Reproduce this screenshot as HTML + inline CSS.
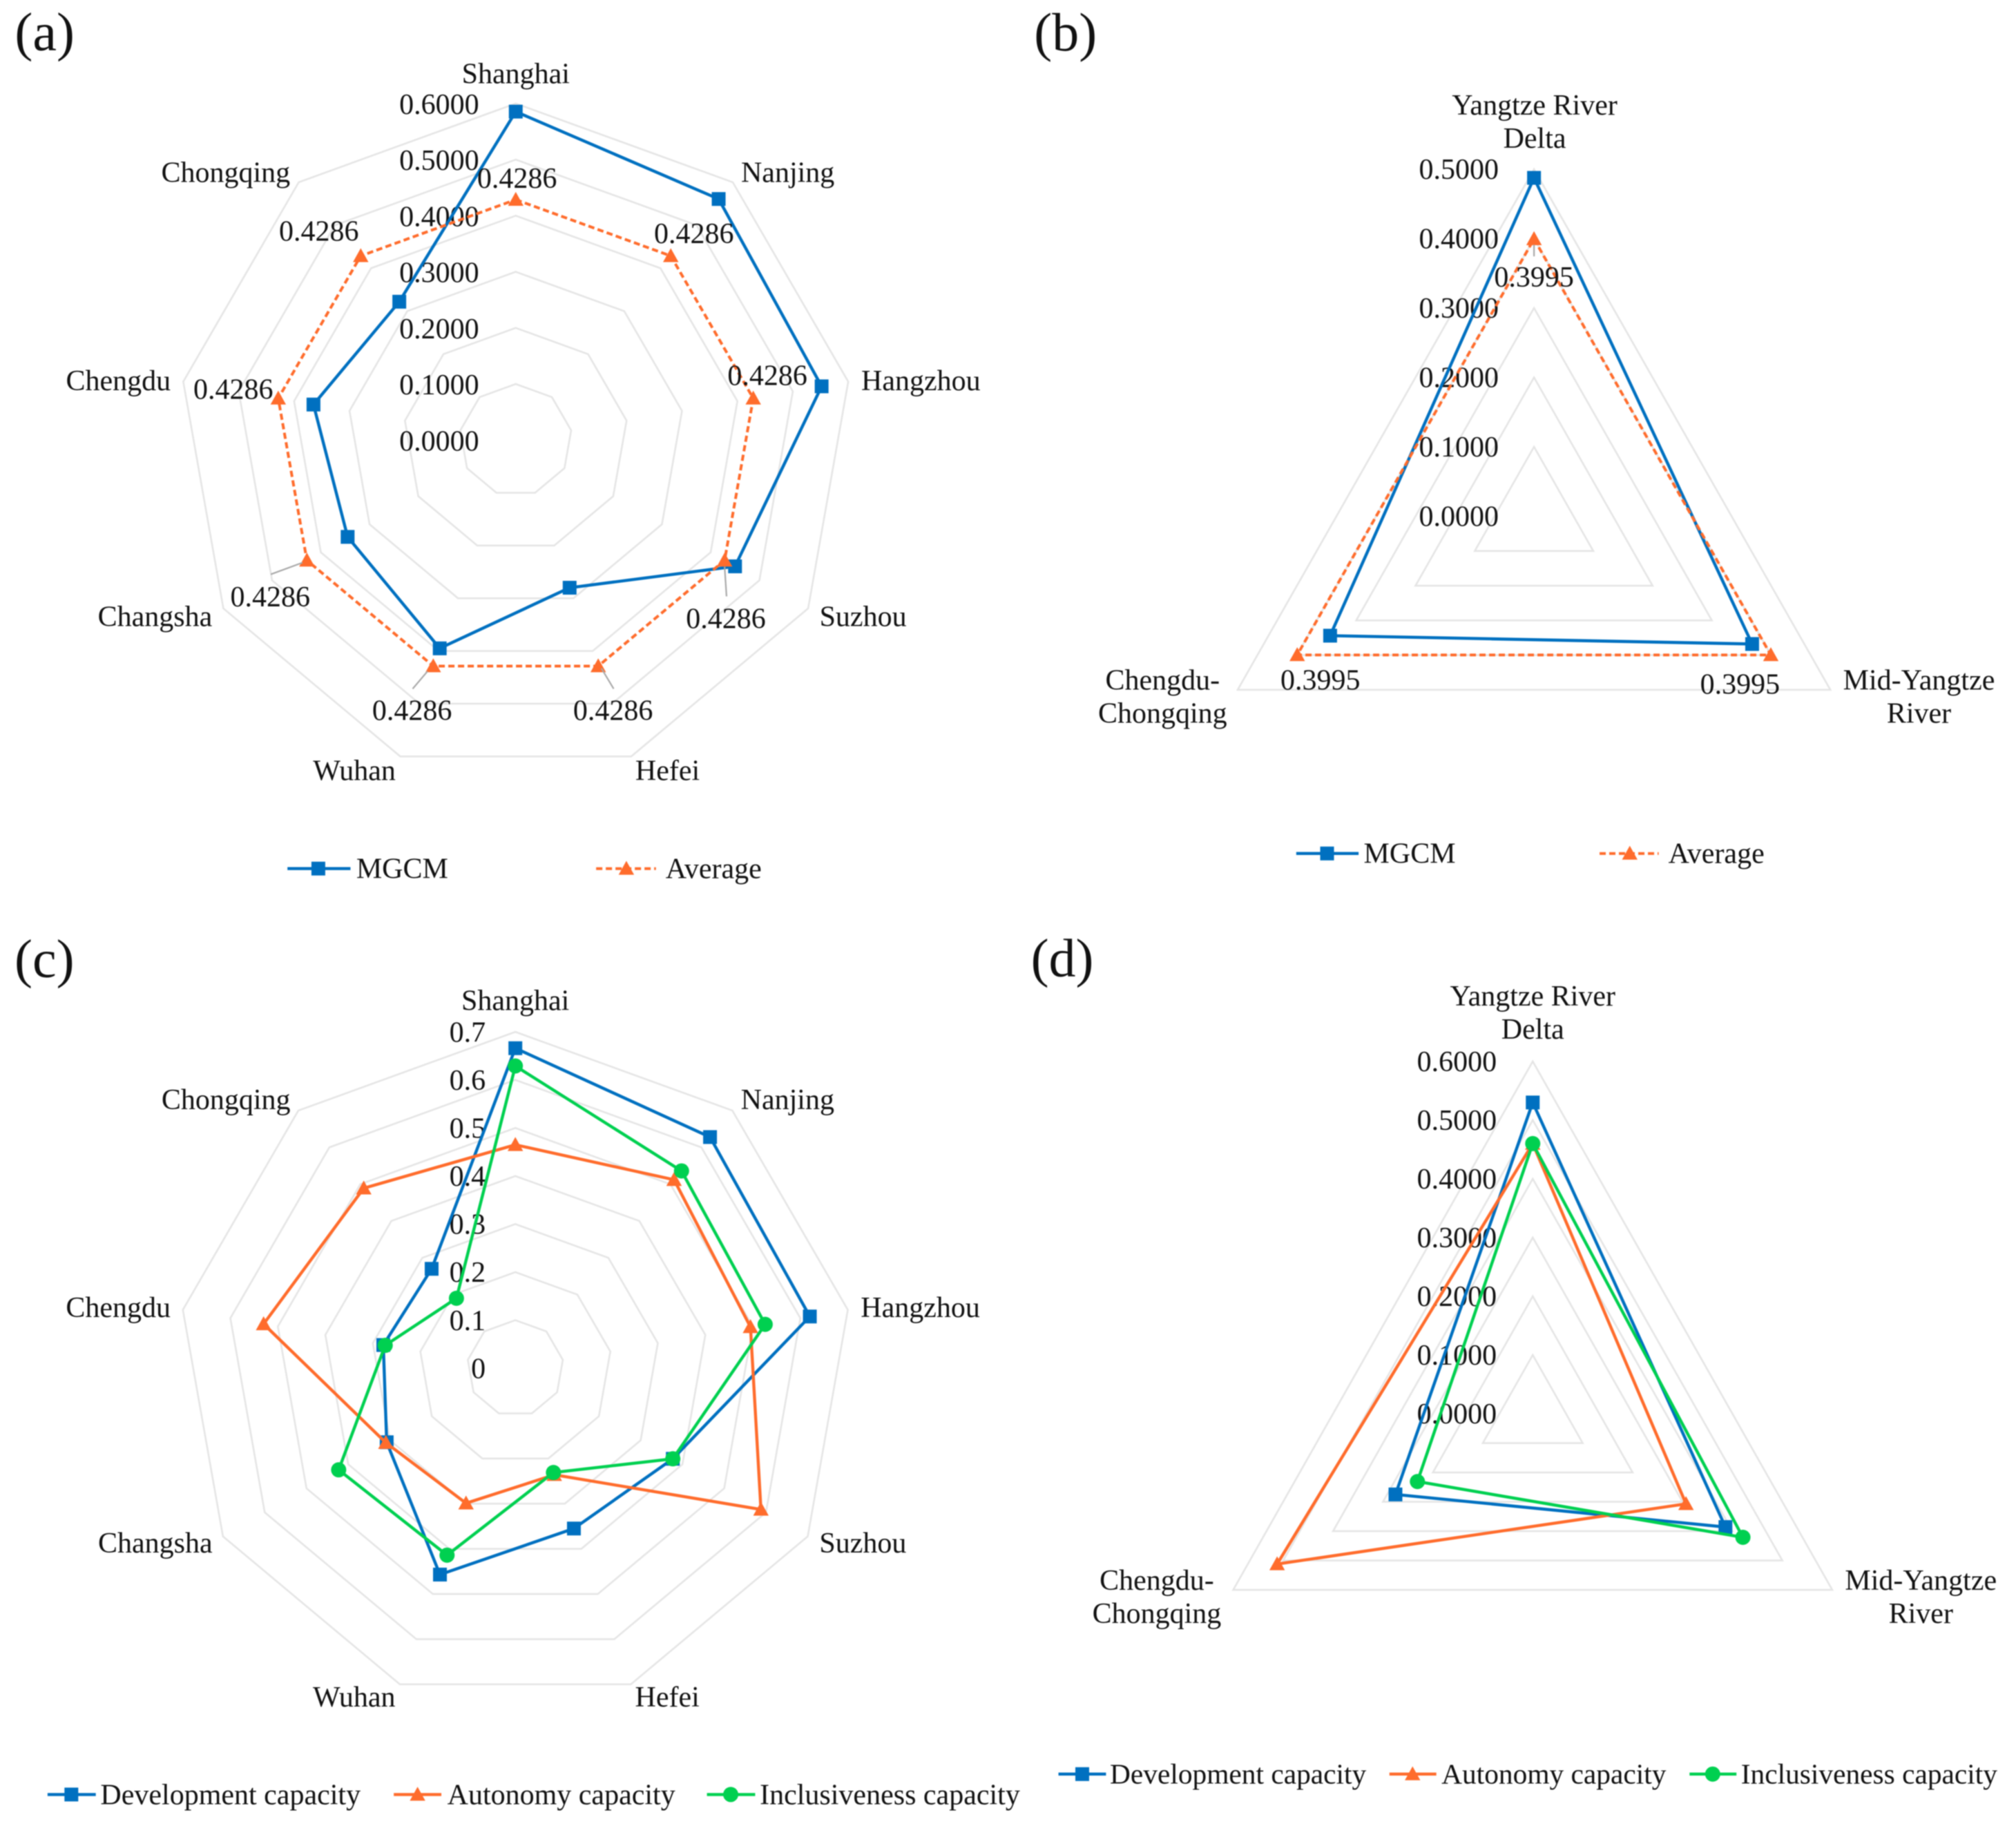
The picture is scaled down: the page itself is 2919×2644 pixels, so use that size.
<!DOCTYPE html>
<html lang="en">
<head>
<meta charset="utf-8">
<title>Radar charts of MGCM and capacity scores</title>
<style>
html,body{margin:0;padding:0;background:#fff;overflow:hidden;}
#figure{display:block;width:2919px;height:2644px;filter:blur(0.7px);}
text{font-family:"Liberation Serif","Times New Roman",serif;fill:#111;}
</style>
</head>
<body>
<svg id="figure" xmlns="http://www.w3.org/2000/svg" width="2919" height="2644" viewBox="0 0 2919 2644"></svg>
<script>
const cityCategories = ['Shanghai','Nanjing','Hangzhou','Suzhou','Hefei','Wuhan','Changsha','Chengdu','Chongqing'];
const regionCategories = [['Yangtze River','Delta'],['Mid-Yangtze','River'],['Chengdu-','Chongqing']];

const panelATicks = [0,0.1,0.2,0.3,0.4,0.5,0.6];
const panelATickLabels = ['0.0000','0.1000','0.2000','0.3000','0.4000','0.5000','0.6000'];
const panelAMgcm = [0.5855,0.561,0.552,0.45,0.28,0.395,0.345,0.365,0.322];
const panelAAverage = [0.4286,0.4286,0.4286,0.4286,0.4286,0.4286,0.4286,0.4286,0.4286];
const panelAAverageLabels = ['0.4286','0.4286','0.4286','0.4286','0.4286','0.4286','0.4286','0.4286','0.4286'];

const panelBTicks = [0,0.1,0.2,0.3,0.4,0.5];
const panelBTickLabels = ['0.0000','0.1000','0.2000','0.3000','0.4000','0.5000'];
const panelBMgcm = [0.4875,0.368,0.344];
const panelBAverage = [0.3995,0.3995,0.3995];
const panelBAverageLabels = ['0.3995','0.3995','0.3995'];

const panelCTicks = [0,0.1,0.2,0.3,0.4,0.5,0.6,0.7];
const panelCTickLabels = ['0','0.1','0.2','0.3','0.4','0.5','0.6','0.7'];
const panelCDevelopment = [0.666,0.628,0.62,0.377,0.355,0.457,0.308,0.278,0.27];
const panelCAutonomy = [0.465,0.512,0.495,0.588,0.236,0.299,0.31,0.53,0.489];
const panelCInclusiveness = [0.629,0.536,0.526,0.377,0.231,0.414,0.423,0.274,0.19];

const panelDTicks = [0,0.1,0.2,0.3,0.4,0.5,0.6];
const panelDTickLabels = ['0.0000','0.1000','0.2000','0.3000','0.4000','0.5000','0.6000'];
const panelDDevelopment = [0.53,0.386,0.275];
const panelDAutonomy = [0.46,0.307,0.512];
const panelDInclusiveness = [0.46,0.421,0.231];

const BLUE = '#0070c0';
const ORANGE = '#ff6c2c';
const GREEN = '#00d050';
const GRID = '#e5e5e5';
const DASH = '9 5';
const FONT_SIZE = 42;
const NS = 'http://www.w3.org/2000/svg';
const svg = document.getElementById('figure');

function mk(parent, tag, attrs, content) {
  const el = document.createElementNS(NS, tag);
  for (const k in attrs) el.setAttribute(k, attrs[k]);
  if (content !== undefined) el.textContent = content;
  parent.appendChild(el);
  return el;
}
function slug(s) { return s.toLowerCase().replace(/[^a-z0-9]+/g, '-').replace(/-$/, ''); }

function drawMarker(g, kind, x, y, color) {
  const size = 20;
  if (kind === 'square') {
    return mk(g, 'rect', {x: x - size / 2, y: y - size / 2, width: size, height: size, fill: color});
  }
  if (kind === 'triangle') {
    const h = size * 0.56;
    return mk(g, 'polygon', {points: x + ',' + (y - h) + ' ' + (x + h) + ',' + (y + h * 0.8) + ' ' + (x - h) + ',' + (y + h * 0.8), fill: color});
  }
  return mk(g, 'circle', {cx: x, cy: y, r: size * 0.55, fill: color});
}

function drawPanel(p) {
  const X = z => p.ox + z * p.fx;
  const Y = z => p.oy + z * p.fy;
  const g = mk(svg, 'g', {});
  
  
  const n = p.categories.length;
  const cx = X(p.cx), cy = Y(p.cy), ux = p.ux * p.fx, uy = p.uy * p.fy;
  const angle = i => 2 * Math.PI * i / n;
  const px = (i, v) => cx + v * ux * Math.sin(angle(i));
  const py = (i, v) => cy - v * uy * Math.cos(angle(i));
  const yAxis = v => cy - v * uy;

  function label(parent, x, y, text, anchor, size) {
    return mk(parent, 'text', {x: x, y: y, 'font-size': size || FONT_SIZE, 'text-anchor': anchor || 'middle'}, text);
  }

  const tag = mk(g, 'text', {x: X(p.tagX), y: Y(p.tagY), 'font-size': 78}, '(' + p.id + ')');
  
  

  p.ticks.forEach(t => {
    if (t <= 0) return;
    const pts = p.categories.map((c, i) => px(i, t) + ',' + py(i, t)).join(' ');
    const ring = mk(g, 'polygon', {points: pts, fill: 'none', stroke: GRID, 'stroke-width': 2.6});
    
    
  });

  p.ticks.forEach((t, i) => {
    const tl = label(g, X(p.tickRight), yAxis(t) + p.tickShift * p.fy + FONT_SIZE * 0.338, p.tickLabels[i], 'end');
    
    
  });

  p.categories.forEach((c, i) => {
    const lines = Array.isArray(c) ? c : [c];
    lines.forEach((line, j) => {
      const t = label(g, X(p.catPos[i][0]), Y(p.catPos[i][1]) + j * 48.2 + FONT_SIZE * 0.32, line);
      
      
    });
  });

  p.series.forEach(s => {
    const sg = mk(g, 'g', {});
    
    
    const pts = s.values.map((v, i) => px(i, v) + ',' + py(i, v)).join(' ');
    const attrs = {points: pts, fill: 'none', stroke: s.color, 'stroke-width': s.dash ? 4 : 4.4, 'stroke-linejoin': 'round'};
    if (s.dash) attrs['stroke-dasharray'] = s.dash;
    const line = mk(sg, 'polygon', attrs);
    
    
    s.values.forEach((v, i) => {
      const m = drawMarker(sg, s.marker, px(i, v), py(i, v), s.color);
      
      
    });
    if (s.labels) {
      s.values.forEach((v, i) => {
        const x = px(i, v), y = py(i, v);
        const off = p.labelOffsets[i];
        const lead = p.leaders[i];
        if (lead) {
          const l = mk(sg, 'line', {x1: x + lead[0] * p.fx, y1: y + lead[1] * p.fy, x2: x + lead[2] * p.fx, y2: y + lead[3] * p.fy, stroke: '#a8a8a8', 'stroke-width': 2.2});
          
          
        }
        const t = label(sg, x + off[0] * p.fx, y + off[1] * p.fy + FONT_SIZE * 0.338, s.labels[i]);
        
        
      });
    }
  });

  p.legend.forEach(e => {
    const lg = mk(g, 'g', {});
    
    
    const ly = Y(p.legendY);
    const attrs = {x1: X(e.x1), x2: X(e.x2), y1: ly, y2: ly, stroke: e.color, 'stroke-width': e.dash ? 4 : 4.4};
    if (e.dash) attrs['stroke-dasharray'] = e.dash;
    mk(lg, 'line', attrs);
    drawMarker(lg, e.marker, X(e.mx), ly, e.color);
    label(lg, X(e.tx), ly + FONT_SIZE * 0.33, e.name, 'start', p.legendFont);
  });
}

drawPanel({
  id: 'a', ox: 0, oy: 0, fx: 1460 / 1568, fy: 1320 / 1568,
  cx: 802, cy: 757, ux: 875, uy: 965,
  tagX: 23, tagY: 86, tickRight: 745, tickShift: 1,
  categories: cityCategories, ticks: panelATicks, tickLabels: panelATickLabels,
  catPos: [[802,127],[1225,297],[1432,655],[1342,1061],[1038,1326],[551,1326],[241,1061],[184,655],[351,297]],
  labelOffsets: [[2,-37],[36,-39],[22,-40],[2,100],[23,76],[-33,76],[-57,62],[-70,-16],[-65,-43]],
  leaders: [null,null,null,[0,11,3,62],[5,4,24,39],[-9,9,-32,39],[-7,4,-56,24],null,null],
  series: [
    {name: 'MGCM', values: panelAMgcm, color: BLUE, marker: 'square'},
    {name: 'Average', values: panelAAverage, color: ORANGE, marker: 'triangle', dash: DASH, labels: panelAAverageLabels}
  ],
  legendY: 1494, legendFont: 42,
  legend: [
    {name: 'MGCM', color: BLUE, marker: 'square', x1: 447, x2: 545, mx: 495, tx: 554},
    {name: 'Average', color: ORANGE, marker: 'triangle', dash: DASH, x1: 927, x2: 1020, mx: 974, tx: 1035}
  ]
});

drawPanel({
  id: 'b', ox: 1460, oy: 0, fx: 1459 / 1568, fy: 1320 / 1568,
  cx: 818, cy: 888, ux: 1065, uy: 1194,
  tagX: 40, tagY: 87, tickRight: 763, tickShift: 0,
  categories: regionCategories, ticks: panelBTicks, tickLabels: panelBTickLabels,
  catPos: [[819,181],[1417,1170],[240,1170]],
  labelOffsets: [[0,65],[-48,50],[36,43]],
  leaders: [[0,10,0,30],null,null],
  series: [
    {name: 'MGCM', values: panelBMgcm, color: BLUE, marker: 'square'},
    {name: 'Average', values: panelBAverage, color: ORANGE, marker: 'triangle', dash: DASH, labels: panelBAverageLabels}
  ],
  legendY: 1468, legendFont: 42,
  legend: [
    {name: 'MGCM', color: BLUE, marker: 'square', x1: 448, x2: 545, mx: 496, tx: 553},
    {name: 'Average', color: ORANGE, marker: 'triangle', dash: DASH, x1: 920, x2: 1012, mx: 967, tx: 1027}
  ]
});

drawPanel({
  id: 'c', ox: 0, oy: 1320, fx: 1500 / 1568, fy: 1324 / 1568,
  cx: 780, cy: 783, ux: 730, uy: 824,
  tagX: 22, tagY: 112, tickRight: 735, tickShift: 0,
  categories: cityCategories, ticks: panelCTicks, tickLabels: panelCTickLabels,
  catPos: [[780,153],[1192,323],[1393,679],[1306,1083],[1010,1347],[536,1347],[235,1083],[179,679],[342,323]],
  labelOffsets: [], leaders: [],
  series: [
    {name: 'Development capacity', values: panelCDevelopment, color: BLUE, marker: 'square'},
    {name: 'Autonomy capacity', values: panelCAutonomy, color: ORANGE, marker: 'triangle'},
    {name: 'Inclusiveness capacity', values: panelCInclusiveness, color: GREEN, marker: 'circle'}
  ],
  legendY: 1514, legendFont: 42,
  legend: [
    {name: 'Development capacity', color: BLUE, marker: 'square', x1: 72, x2: 145, mx: 108, tx: 152},
    {name: 'Autonomy capacity', color: ORANGE, marker: 'triangle', x1: 596, x2: 668, mx: 632, tx: 677},
    {name: 'Inclusiveness capacity', color: GREEN, marker: 'circle', x1: 1070, x2: 1143, mx: 1106, tx: 1150}
  ]
});

drawPanel({
  id: 'd', ox: 1460, oy: 1320, fx: 1459 / 1568, fy: 1324 / 1568,
  cx: 816, cy: 861, ux: 897, uy: 1007,
  tagX: 35, tagY: 111, tickRight: 760, tickShift: 0,
  categories: regionCategories, ticks: panelDTicks, tickLabels: panelDTickLabels,
  catPos: [[816,145],[1420,1147],[231,1147]],
  labelOffsets: [], leaders: [],
  series: [
    {name: 'Development capacity', values: panelDDevelopment, color: BLUE, marker: 'square'},
    {name: 'Autonomy capacity', values: panelDAutonomy, color: ORANGE, marker: 'triangle'},
    {name: 'Inclusiveness capacity', values: panelDInclusiveness, color: GREEN, marker: 'circle'}
  ],
  legendY: 1479, legendFont: 41.4,
  legend: [
    {name: 'Development capacity', color: BLUE, marker: 'square', x1: 78, x2: 152, mx: 115, tx: 158},
    {name: 'Autonomy capacity', color: ORANGE, marker: 'triangle', x1: 593, x2: 666, mx: 629, tx: 674},
    {name: 'Inclusiveness capacity', color: GREEN, marker: 'circle', x1: 1060, x2: 1133, mx: 1096, tx: 1140}
  ]
});
</script>
</body>
</html>
